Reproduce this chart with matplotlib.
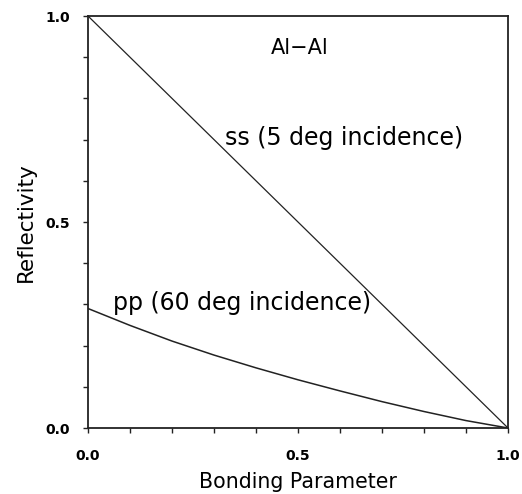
import matplotlib
matplotlib.use("Agg")
import matplotlib.pyplot as plt
import numpy as np

bonding = [0.0, 0.1, 0.2, 0.3, 0.4, 0.5, 0.6, 0.7, 0.8, 0.9, 1.0]
ss_refl = [1.0, 0.9, 0.8, 0.7, 0.6, 0.5, 0.4, 0.3, 0.2, 0.1, 0.0]
pp_refl = [0.29, 0.249, 0.211, 0.177, 0.146, 0.117, 0.09, 0.064, 0.04, 0.018, 0.0]

tick_vals = [0.0, 0.5, 1.0]
tick_labels = ["0.0", "0.5", "1.0"]

fig = plt.figure(figsize=(5.22, 4.94), dpi=100)
ax = fig.add_axes([88/522, 66/494, 420/522, 412/494])

ax.plot(bonding, ss_refl, color="#222222", lw=0.9)
ax.plot(bonding, pp_refl, color="#222222", lw=1.1)

ax.set_xlim(0, 1)
ax.set_ylim(0, 1)
for s in ax.spines.values():
    s.set_linewidth(1.3)
    s.set_color("#222222")

ax.set_xticks(tick_vals)
ax.set_xticklabels(tick_labels, fontsize=10, fontweight="bold")
ax.set_yticks(tick_vals)
ax.set_yticklabels(tick_labels, fontsize=10, fontweight="bold")
ax.set_xticks(np.arange(0, 1.01, 0.1), minor=True)
ax.set_yticks(np.arange(0, 1.01, 0.1), minor=True)
ax.tick_params(which="both", direction="out", length=3.6, width=1.0, color="#222222")
ax.tick_params(axis="x", which="major", pad=11.5)
ax.tick_params(axis="y", which="major", pad=9.4)

ax.set_xlabel("Bonding Parameter", fontsize=14.8)
ax.set_ylabel("Reflectivity", fontsize=15.5)
ax.xaxis.set_label_coords(0.5, -0.107)
ax.yaxis.set_label_coords(-0.125, 0.5)

ax.text(0.505, 0.922, "Al\u2212Al", fontsize=15, ha="center", va="center")
ax.text(0.326, 0.704, "ss (5 deg incidence)", fontsize=17, ha="left", va="center")
ax.text(0.06, 0.303, "pp (60 deg incidence)", fontsize=17, ha="left", va="center")

fig.savefig("out.png", dpi=100)
